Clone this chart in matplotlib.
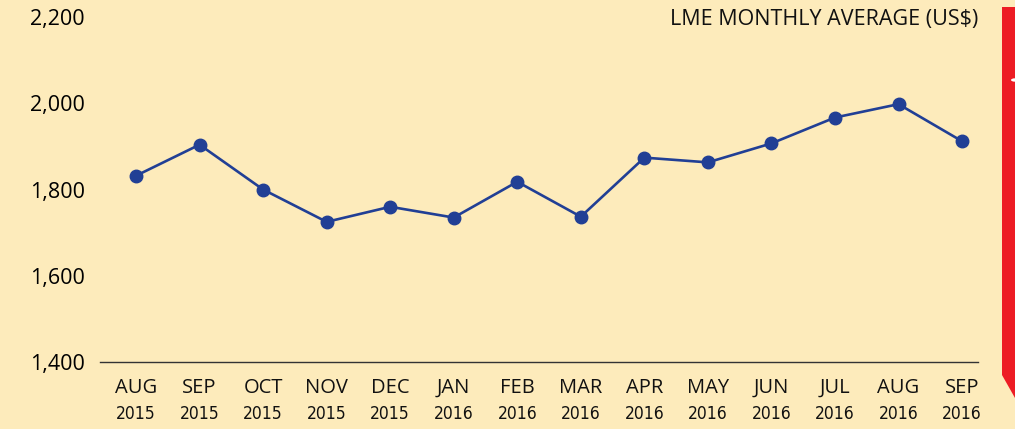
import matplotlib.pyplot as plt
from matplotlib.patches import Polygon, Circle
from matplotlib.ticker import FuncFormatter

months = ['AUG', 'SEP', 'OCT', 'NOV', 'DEC', 'JAN', 'FEB',
          'MAR', 'APR', 'MAY', 'JUN', 'JUL', 'AUG', 'SEP']
years = ['2015', '2015', '2015', '2015', '2015', '2016', '2016',
         '2016', '2016', '2016', '2016', '2016', '2016', '2016']
prices = [1832, 1904, 1800, 1725, 1760, 1735, 1818,
          1737, 1874, 1863, 1907, 1967, 1998, 1912]
y_ticks = [1400, 1600, 1800, 2000, 2200]

BG = '#fdebbb'
BLUE = '#213f95'
RED = '#ed1c24'

fig = plt.figure(figsize=(10.15, 4.29), dpi=100, facecolor=BG)
ax = fig.add_axes([0.0985, 0.1562, 0.865, 0.8040])
ax.set_facecolor(BG)

x = list(range(len(prices)))
ax.plot(x, prices, color=BLUE, lw=1.9, marker='o', ms=9, zorder=3)

ax.set_xlim(-0.567, 13.25)
ax.set_ylim(1400, 2200)
ax.set_yticks(y_ticks)
ax.yaxis.set_major_formatter(FuncFormatter(lambda v, p: f'{int(v):,}'))
ax.tick_params(axis='y', length=0, pad=11, labelsize=15.5)
for lbl in ax.get_yticklabels():
    lbl.set_fontfamily('Open Sans')
ax.set_xticks(x)
ax.set_xticklabels([])
ax.tick_params(axis='x', length=0)

for side in ['top', 'right', 'left']:
    ax.spines[side].set_visible(False)
ax.spines['bottom'].set_color('#333333')
ax.spines['bottom'].set_linewidth(1.0)

# two-line category labels
trans = ax.get_xaxis_transform()
for i, (m, yr) in enumerate(zip(months, years)):
    ax.text(i, -0.075, m, transform=trans, ha='center', va='center',
            fontsize=14.5, fontfamily='Open Sans', color='#111111')
    ax.text(i, -0.152, yr, transform=trans, ha='center', va='center',
            fontsize=12.5, fontfamily='DejaVu Sans', fontstretch='condensed',
            color='#111111')

ax.text(1.0, 0.992, 'LME MONTHLY AVERAGE (US$)', transform=ax.transAxes,
        ha='right', va='center', fontsize=15.5, fontfamily='Open Sans',
        color='#111111')

# red strip at the right edge
W, H = 1015, 429
pts = [(1002, 7), (1015, 7), (1015, 398), (1002, 375)]
strip = Polygon([(px / W, 1 - py / H) for px, py in pts], closed=True,
                transform=fig.transFigure, facecolor=RED, edgecolor='none')
fig.patches.append(strip)
dot = Circle((1015 / W, 1 - 80 / H), 4 / W, transform=fig.transFigure,
             facecolor='white', edgecolor='none')
fig.patches.append(dot)

fig.savefig('out.png', dpi=100, facecolor=BG)
